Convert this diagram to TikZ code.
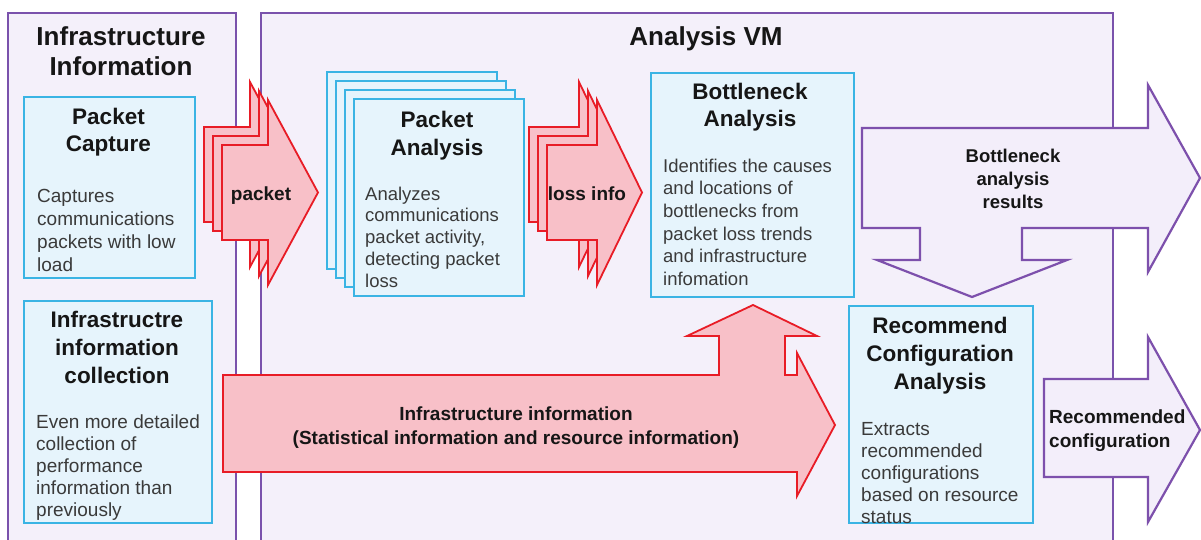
\documentclass[tikz,border=0pt]{standalone}
\usepackage{fontspec}
\setmainfont{Liberation Sans}
\definecolor{contline}{RGB}{122,82,172}
\definecolor{contfill}{RGB}{244,240,250}
\definecolor{boxline}{RGB}{58,180,228}
\definecolor{boxfill}{RGB}{230,244,252}
\definecolor{redline}{RGB}{232,28,38}
\definecolor{redfill}{RGB}{248,192,200}
\definecolor{purline}{RGB}{125,80,172}
\definecolor{purfill}{RGB}{243,238,250}
\definecolor{titletext}{RGB}{22,22,22}
\definecolor{bodytext}{RGB}{58,58,58}
\begin{document}
\begin{tikzpicture}[x=1pt,y=-1pt,
  cont/.style={draw=contline, fill=contfill, line width=2.2pt},
  bbox/.style={draw=boxline, fill=boxfill, line width=2.2pt, anchor=north west, inner sep=0pt},
  redarr/.style={draw=redline, fill=redfill, line width=1.8pt},
  purarr/.style={draw=purline, fill=purfill, line width=2.2pt},
  ttl/.style={font=\fontsize{26}{30}\selectfont\bfseries, text=titletext, align=center, inner sep=0pt, anchor=north},
  boxttl/.style={font=\fontsize{22.5}{27.5}\selectfont\bfseries, text=titletext, align=center, inner sep=0pt, anchor=north},
  body/.style={font=\fontsize{19}{22.5}\selectfont, text=bodytext, align=left, inner sep=0pt, anchor=north west},
  lbl/.style={font=\fontsize{19}{23.5}\selectfont\bfseries, text=titletext, align=center, inner sep=0pt, anchor=north},
]
\useasboundingbox (0,0) rectangle (1201,540);
\fill[white] (0,0) rectangle (1201,540);
\clip (0,0) rectangle (1201,540);

% containers
\draw[cont] (8,13) rectangle (236,570);
\draw[cont] (261,13) rectangle (1113,570);
\node[ttl] (tinfra) at (121,24) {\strut Infrastructure\\Information};
\node[ttl] (tvm) at (706,24) {\strut Analysis VM};

% packet capture
\node[bbox, minimum width=171pt, minimum height=181pt] (pc) at (23,96) {};
\node[boxttl] (pct) at (108.5,104.75) {\strut Packet\\Capture};
\node[body, font=\fontsize{19}{23}\selectfont] (pcb) at (37,185.9) {\strut Captures\\communications\\packets with low\\load};

% infrastructure collection
\node[bbox, minimum width=188pt, minimum height=222pt] (ic) at (23,300) {};
\node[boxttl, font=\fontsize{22.5}{28}\selectfont\bfseries] (ict) at (117,307.4) {\strut Infrastructre\\information\\collection};
\node[body, font=\fontsize{19}{22}\selectfont] (icb) at (36,412.6) {\strut Even more detailed\\collection of\\performance\\information than\\previously};

% packet analysis (stacked)
\node[bbox, minimum width=170pt, minimum height=197pt] (pa3) at (326,71) {};
\node[bbox, minimum width=170pt, minimum height=197pt] (pa2) at (335,80) {};
\node[bbox, minimum width=170pt, minimum height=197pt] (pa1) at (344,89) {};
\node[bbox, minimum width=170pt, minimum height=197pt] (pa) at (353,98) {};
\node[boxttl, font=\fontsize{22.5}{28}\selectfont\bfseries] (pat) at (437,107.4) {\strut Packet\\Analysis};
\node[body, font=\fontsize{18.5}{21.8}\selectfont] (pab) at (365,184.7) {\strut Analyzes\\communications\\packet activity,\\detecting packet\\loss};

% bottleneck analysis
\node[bbox, minimum width=203pt, minimum height=224pt] (ba) at (650,72) {};
\node[boxttl] (bat) at (750,79.75) {\strut Bottleneck\\Analysis};
\node[body, font=\fontsize{18.5}{22.6}\selectfont] (bab) at (663,156.2) {\strut Identifies the causes\\and locations of\\bottlenecks from\\packet loss trends\\and infrastructure\\infomation};

% recommend configuration analysis
\node[bbox, minimum width=184pt, minimum height=217pt] (rc) at (848,305) {};
\node[boxttl, font=\fontsize{22.5}{28.3}\selectfont\bfseries] (rct) at (940,313.2) {\strut Recommend\\Configuration\\Analysis};
\node[body, font=\fontsize{19}{22}\selectfont] (rcb) at (861,419.6) {\strut Extracts\\recommended\\configurations\\based on resource\\status};

% packet arrows
\foreach \d in {18,9,0}{
  \draw[redarr] (222-\d,145-\d) -- (268-\d,145-\d) -- (268-\d,100-\d) -- (318-\d,192.5-\d)
    -- (268-\d,285-\d) -- (268-\d,240-\d) -- (222-\d,240-\d) -- cycle;
}
\node[lbl] (lpacket) at (261,183.5) {\strut packet};

% loss info arrows
\foreach \d in {18,9,0}{
  \draw[redarr] (547-\d,145-\d) -- (597-\d,145-\d) -- (597-\d,100-\d) -- (642-\d,192.5-\d)
    -- (597-\d,285-\d) -- (597-\d,240-\d) -- (547-\d,240-\d) -- cycle;
}
\node[lbl] (lloss) at (587,183.5) {\strut loss info};

% infrastructure information big arrow
\draw[redarr] (223,375) -- (719,375) -- (719,336) -- (687,336) -- (753,305) -- (817,336)
  -- (785,336) -- (785,375) -- (797,375) -- (797,353) -- (835,425) -- (797,496)
  -- (797,472) -- (223,472) -- cycle;
\node[lbl, font=\fontsize{19}{24}\selectfont\bfseries] (linfra) at (516,403.2) {\strut Infrastructure information\\(Statistical information and resource information)};

% bottleneck analysis results arrow
\draw[purarr] (862,128) -- (1148,128) -- (1148,85) -- (1200,178) -- (1148,272) -- (1148,228)
  -- (1022,228) -- (1022,260) -- (1067,260) -- (972,297) -- (877,260) -- (920,260)
  -- (920,228) -- (862,228) -- cycle;
\node[lbl, font=\fontsize{18.5}{23}\selectfont\bfseries] (lbres) at (1013,145.9) {\strut Bottleneck\\analysis\\results};

% recommended configuration arrow
\draw[purarr] (1044,379) -- (1148,379) -- (1148,337) -- (1200,430) -- (1148,522) -- (1148,477)
  -- (1044,477) -- cycle;
\node[lbl, align=left, anchor=north west, font=\fontsize{19}{24}\selectfont\bfseries] (lrec) at (1049,406.2) {\strut Recommended\\configuration};
\end{tikzpicture}
\end{document}
